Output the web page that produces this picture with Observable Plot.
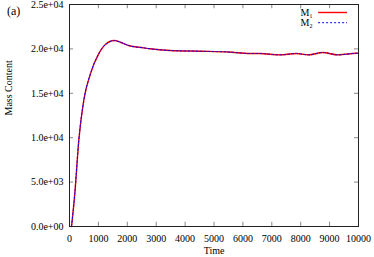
<!DOCTYPE html>
<html>
<head>
<meta charset="utf-8">
<script src="https://cdn.jsdelivr.net/npm/d3@7"></script>
<script src="https://cdn.jsdelivr.net/npm/@observablehq/plot@0.6"></script>
<style>
  html, body { margin: 0; padding: 0; background: #fff; }
  #chart { position: relative; width: 374px; height: 257px; }
  #chart svg, #chart svg text { font-family: "Liberation Serif", serif !important; }
  .ttl { position: absolute; left: 7px; top: 4px; font: 12px "Liberation Serif", serif; color: #000; }
</style>
</head>
<body>
<div id="chart"><div class="ttl">(a)</div></div>
<script>
// Data
const time = [70, 183, 321, 493, 724, 1010, 1241, 1552, 1759, 2045, 2562, 2793, 3483, 4517, 5500, 6241, 6586, 7276, 7852, 8252, 8770, 9286, 9920, 10000];
const m1   = [0, 3680, 9680, 14190, 17190, 19440, 20490, 20940, 20750, 20380, 20120, 20010, 19820, 19740, 19650, 19480, 19480, 19330, 19480, 19330, 19590, 19330, 19510, 19520];
const m2   = [0, 3680, 9680, 14190, 17190, 19440, 20490, 20940, 20750, 20380, 20120, 20010, 19820, 19740, 19650, 19480, 19480, 19330, 19480, 19330, 19590, 19330, 19510, 19520];
const xTicks = [0, 1000, 2000, 3000, 4000, 5000, 6000, 7000, 8000, 9000, 10000];
const yTicks = [0, 5000, 10000, 15000, 20000, 25000];
const seriesNames = ["M\u2081", "M\u2082"];

const d1 = time.map((t, i) => ({t, v: m1[i]}));
const d2 = time.map((t, i) => ({t, v: m2[i]}));

const fmtY = v => {
  const [m, e] = v.toExponential(1).split("e");
  const sign = e[0];
  const num = e.slice(1).padStart(2, "0");
  return `${m}e${sign}${num}`;
};

const serif = "Liberation Serif, serif";
// tick lengths in data units (gnuplot-style inward ticks)
const yTickLen = 480, xTickLen = 140;
const tickColor = "#888";

const plot = Plot.plot({
  width: 374,
  height: 257,
  marginLeft: 69,
  marginRight: 16,
  marginTop: 4,
  marginBottom: 31,
  style: {fontFamily: serif, fontSize: "10px", color: "#000", background: "#fff"},
  x: {domain: [0, 10000]},
  y: {domain: [0, 25000]},
  marks: [
    Plot.ruleX(xTicks, {x: d => d, y1: 0, y2: yTickLen, stroke: tickColor}),
    Plot.ruleX(xTicks, {x: d => d, y1: 25000 - yTickLen, y2: 25000, stroke: tickColor}),
    Plot.ruleY(yTicks, {y: d => d, x1: 0, x2: xTickLen, stroke: tickColor}),
    Plot.ruleY(yTicks, {y: d => d, x1: 10000 - xTickLen, x2: 10000, stroke: tickColor}),
    Plot.axisX(xTicks, {tickSize: 0, tickPadding: 8, fontSize: 10, fontFamily: serif, tickFormat: d3.format("d"), label: null}),
    Plot.axisY(yTicks, {tickSize: 0, tickPadding: 6, tickFormat: fmtY, fontSize: 10, fontFamily: serif, label: null}),
    Plot.line(d1, {x: "t", y: "v", stroke: "#ff0000", strokeWidth: 1.4, curve: "monotone-x"}),
    Plot.line(d2, {x: "t", y: "v", stroke: "#0000ff", strokeWidth: 1, strokeDasharray: "2,2", curve: "monotone-x"}),
    Plot.text([seriesNames[0]], {x: 8420, y: 24050, text: d => d, textAnchor: "end", fontSize: 10, fontFamily: serif}),
    Plot.text([seriesNames[1]], {x: 8420, y: 22950, text: d => d, textAnchor: "end", fontSize: 10, fontFamily: serif}),
    Plot.ruleY([24100], {x1: 8620, x2: 9620, stroke: "#ff0000", strokeWidth: 1.4}),
    Plot.ruleY([22950], {x1: 8620, x2: 9620, stroke: "#0000ff", strokeWidth: 1, strokeDasharray: "2,2"}),
    Plot.frame({stroke: "#222"}),
    Plot.text(["Time"], {frameAnchor: "bottom", dy: 27, text: d => d, fontSize: 10, fontFamily: serif}),
    Plot.text(["Mass Content"], {frameAnchor: "left", dx: -61, rotate: -90, text: d => d, fontSize: 10, fontFamily: serif})
  ]
});
document.getElementById("chart").appendChild(plot);
</script>
</body>
</html>
